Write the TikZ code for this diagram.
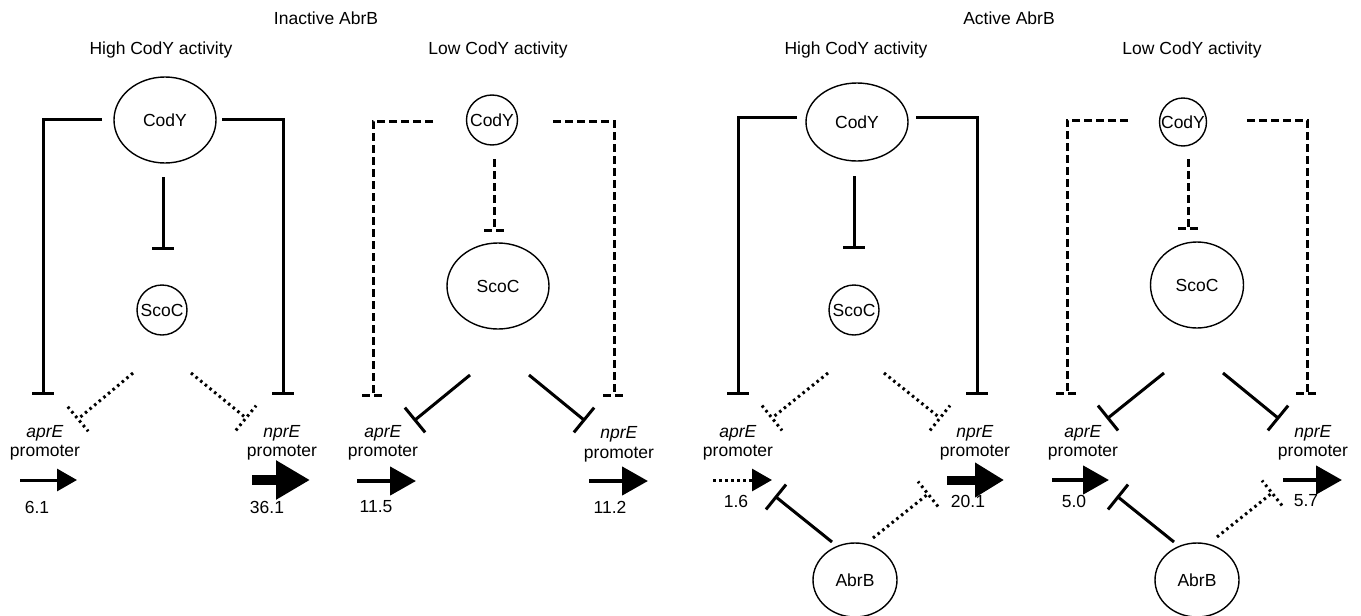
\documentclass[tikz,border=0pt]{standalone}
\usepackage{fontspec}
\setmainfont{Liberation Sans}
\usetikzlibrary{calc,arrows.meta,shapes.geometric}
\newcommand{\ctr}[1]{\makebox[0pt]{#1}}

\begin{document}
\begin{tikzpicture}[x=1pt,y=-1pt,
		lbl/.style={font=\fontsize{17.5}{20}\selectfont, inner sep=0pt},
		prot/.style={draw, ellipse, line width=1.4pt, inner sep=0pt, font=\fontsize{17.5}{20}\selectfont},
		inh/.style={to path={-- (\tikztotarget) ($(\tikztotarget)!#1!90:(\tikztostart)$) -- ($(\tikztotarget)!#1!-90:(\tikztostart)$)}},
		inh/.default=11pt,
		solidln/.style={line width=3pt},
		dashln/.style={line width=3pt, dash pattern=on 8pt off 4pt},
		dotln/.style={line width=3pt, dash pattern=on 2.5pt off 3.5pt},
		prom/.style={line width=3pt, -{Triangle[length=20pt,width=22pt]}},
		promm/.style={line width=4.5pt, -{Triangle[length=26pt,width=28pt]}},
		promb/.style={line width=10pt, -{Triangle[length=34pt,width=37pt]}}]
		\useasboundingbox (0,0) rectangle (1361,616);
		%%%%% TITLES %%%%%
		\node[lbl] (inact) at (326,18) {Inactive AbrB};
		\node[lbl] (act) at (1009,18) {Active AbrB};
		
		%%%%% PANEL 1 %%%%%
		\node[lbl] (head1) at (161,50) {High CodY activity};
		\node[prot, minimum width=102pt, minimum height=86pt] (cody1) at (165,120) {\ctr{CodY}};
		\node[prot, minimum size=50pt] (scoc1) at (162,310) {\ctr{ScoC}};
		\node[lbl] (apr1) at (45,433) {\textit{aprE}};
		\node[lbl] (aprp1) at (45,453) {promoter};
		\node[lbl] (npr1) at (282,433) {\textit{nprE}};
		\node[lbl] (nprp1) at (282,453) {promoter};
		\node[lbl] (aprv1) at (37,507) {6.1};
		\node[lbl] (nprv1) at (267,507) {36.1};
		
		\coordinate (c1l) at (102,119); \coordinate (c1lk) at (43,119); \coordinate (c1lb) at (43,393);
		\coordinate (c1r) at (222,119); \coordinate (c1rk) at (283,119); \coordinate (c1rb) at (283,393);
		\coordinate (c1m) at (163,177); \coordinate (c1mb) at (163,248);
		\coordinate (s1l) at (133,373); \coordinate (s1lb) at (78,419);
		\coordinate (s1r) at (191,373); \coordinate (s1rb) at (246,418);
		\coordinate (a1l) at (20,480); \coordinate (a1le) at (77,480);
		\coordinate (a1r) at (252,480); \coordinate (a1re) at (310,480);
		
		\draw[solidln] (c1l) -- (c1lk) to[inh] (c1lb);
		\draw[solidln] (c1r) -- (c1rk) to[inh] (c1rb);
		\draw[solidln] (c1m) to[inh] (c1mb);
		\draw[dotln] (s1l) to[inh=16pt] (s1lb);
		\draw[dotln] (s1r) to[inh=16pt] (s1rb);
		\draw[prom] (a1l) -- (a1le);
		\draw[promb] (a1r) -- (a1re);
		
		%%%%% PANEL 2 %%%%%
		\node[lbl] (head2) at (498,50) {Low CodY activity};
		\node[prot, minimum width=51pt, minimum height=50pt] (cody2) at (492,120) {\ctr{CodY}};
		\node[prot, minimum width=102pt, minimum height=86pt] (scoc2) at (498,286) {\ctr{ScoC}};
		\node[lbl] (apr2) at (383,433) {\textit{aprE}};
		\node[lbl] (aprp2) at (383,453) {promoter};
		\node[lbl] (npr2) at (619,434) {\textit{nprE}};
		\node[lbl] (nprp2) at (619,455) {promoter};
		\node[lbl] (aprv2) at (376,507) {11.5};
		\node[lbl] (nprv2) at (610,507) {11.2};
		
		\coordinate (c2l) at (433,121); \coordinate (c2lk) at (373,121); \coordinate (c2lb) at (373,395);
		\coordinate (c2r) at (553,121); \coordinate (c2rk) at (614,121); \coordinate (c2rb) at (614,395);
		\coordinate (c2m) at (494,159); \coordinate (c2mb) at (494,230);
		\coordinate (s2l) at (470,375); \coordinate (s2lb) at (415,420);
		\coordinate (s2r) at (529,375); \coordinate (s2rb) at (584,420);
		\coordinate (a2l) at (357,481); \coordinate (a2le) at (416,481);
		\coordinate (a2r) at (589,481); \coordinate (a2re) at (648,481);
		
		\draw[dashln] (c2l) -- (c2lk) to[inh] (c2lb);
		\draw[dashln] (c2r) -- (c2rk) to[inh] (c2rb);
		\draw[dashln] (c2m) to[inh=10pt] (c2mb);
		\draw[solidln] (s2l) to[inh=16pt] (s2lb);
		\draw[solidln] (s2r) to[inh=16pt] (s2rb);
		\draw[promm] (a2l) -- (a2le);
		\draw[promm] (a2r) -- (a2re);
		
		%%%%% PANEL 3 %%%%%
		\node[lbl] (head3) at (856,50) {High CodY activity};
		\node[prot, minimum width=102pt, minimum height=78pt] (cody3) at (857,122) {\ctr{CodY}};
		\node[prot, minimum size=50pt] (scoc3) at (854,310) {\ctr{ScoC}};
		\node[prot, minimum width=84pt, minimum height=74pt] (abrb3) at (855,580) {\ctr{AbrB}};
		\node[lbl] (apr3) at (738,433) {\textit{aprE}};
		\node[lbl] (aprp3) at (738,453) {promoter};
		\node[lbl] (npr3) at (975,433) {\textit{nprE}};
		\node[lbl] (nprp3) at (975,453) {promoter};
		\node[lbl] (aprv3) at (736,501) {1.6};
		\node[lbl] (nprv3) at (968,501) {20.1};
		
		\coordinate (c3l) at (797,117); \coordinate (c3lk) at (738,117); \coordinate (c3lb) at (738,393);
		\coordinate (c3r) at (916,117); \coordinate (c3rk) at (977,117); \coordinate (c3rb) at (977,393);
		\coordinate (c3m) at (854,176); \coordinate (c3mb) at (854,247);
		\coordinate (s3l) at (828,373); \coordinate (s3lb) at (772,418);
		\coordinate (s3r) at (884,373); \coordinate (s3rb) at (940,418);
		\coordinate (b3l) at (832,542); \coordinate (b3lb) at (776,497);
		\coordinate (b3r) at (873,538); \coordinate (b3rb) at (928,494);
		\coordinate (a3l) at (713,480); \coordinate (a3le) at (772,480);
		\coordinate (a3r) at (947,480); \coordinate (a3re) at (1004,480);
		
		\draw[solidln] (c3l) -- (c3lk) to[inh] (c3lb);
		\draw[solidln] (c3r) -- (c3rk) to[inh] (c3rb);
		\draw[solidln] (c3m) to[inh] (c3mb);
		\draw[dotln] (s3l) to[inh=16pt] (s3lb);
		\draw[dotln] (s3r) to[inh=16pt] (s3rb);
		\draw[solidln] (b3l) to[inh=16pt] (b3lb);
		\draw[dotln] (b3r) to[inh=16pt] (b3rb);
		\draw[dotln, -{Triangle[length=20pt,width=22pt,sep=0pt]}] (a3l) -- (a3le);
		\draw[line width=9pt, -{Triangle[length=29pt,width=33pt]}] (a3r) -- (a3re);
		
		%%%%% PANEL 4 %%%%%
		\node[lbl] (head4) at (1192,50) {Low CodY activity};
		\node[prot, minimum width=47pt, minimum height=48pt] (cody4) at (1183,122) {\ctr{CodY}};
		\node[prot, minimum width=93pt, minimum height=86pt] (scoc4) at (1197,285) {\ctr{ScoC}};
		\node[prot, minimum width=84pt, minimum height=74pt] (abrb4) at (1197,580) {\ctr{AbrB}};
		\node[lbl] (apr4) at (1083,433) {\textit{aprE}};
		\node[lbl] (aprp4) at (1083,453) {promoter};
		\node[lbl] (npr4) at (1313,433) {\textit{nprE}};
		\node[lbl] (nprp4) at (1313,453) {promoter};
		\node[lbl] (aprv4) at (1074,501) {5.0};
		\node[lbl] (nprv4) at (1306,501) {5.7};
		
		\coordinate (c4l) at (1128,120); \coordinate (c4lk) at (1067,120); \coordinate (c4lb) at (1067,393);
		\coordinate (c4r) at (1247,120); \coordinate (c4rk) at (1307,120); \coordinate (c4rb) at (1307,393);
		\coordinate (c4m) at (1188,159); \coordinate (c4mb) at (1188,228);
		\coordinate (s4l) at (1164,373); \coordinate (s4lb) at (1108,418);
		\coordinate (s4r) at (1223,373); \coordinate (s4rb) at (1278,418);
		\coordinate (b4l) at (1174,542); \coordinate (b4lb) at (1118,497);
		\coordinate (b4r) at (1217,537); \coordinate (b4rb) at (1272,493);
		\coordinate (a4l) at (1052,480); \coordinate (a4le) at (1109,480);
		\coordinate (a4r) at (1283,480); \coordinate (a4re) at (1342,480);
		
		\draw[dashln] (c4l) -- (c4lk) to[inh] (c4lb);
		\draw[dashln] (c4r) -- (c4rk) to[inh] (c4rb);
		\draw[dashln] (c4m) to[inh=10pt] (c4mb);
		\draw[solidln] (s4l) to[inh=16pt] (s4lb);
		\draw[solidln] (s4r) to[inh=16pt] (s4rb);
		\draw[solidln] (b4l) to[inh=16pt] (b4lb);
		\draw[dotln] (b4r) to[inh=16pt] (b4rb);
		\draw[promm] (a4l) -- (a4le);
		\draw[promm] (a4r) -- (a4re);
\end{tikzpicture}
\end{document}
